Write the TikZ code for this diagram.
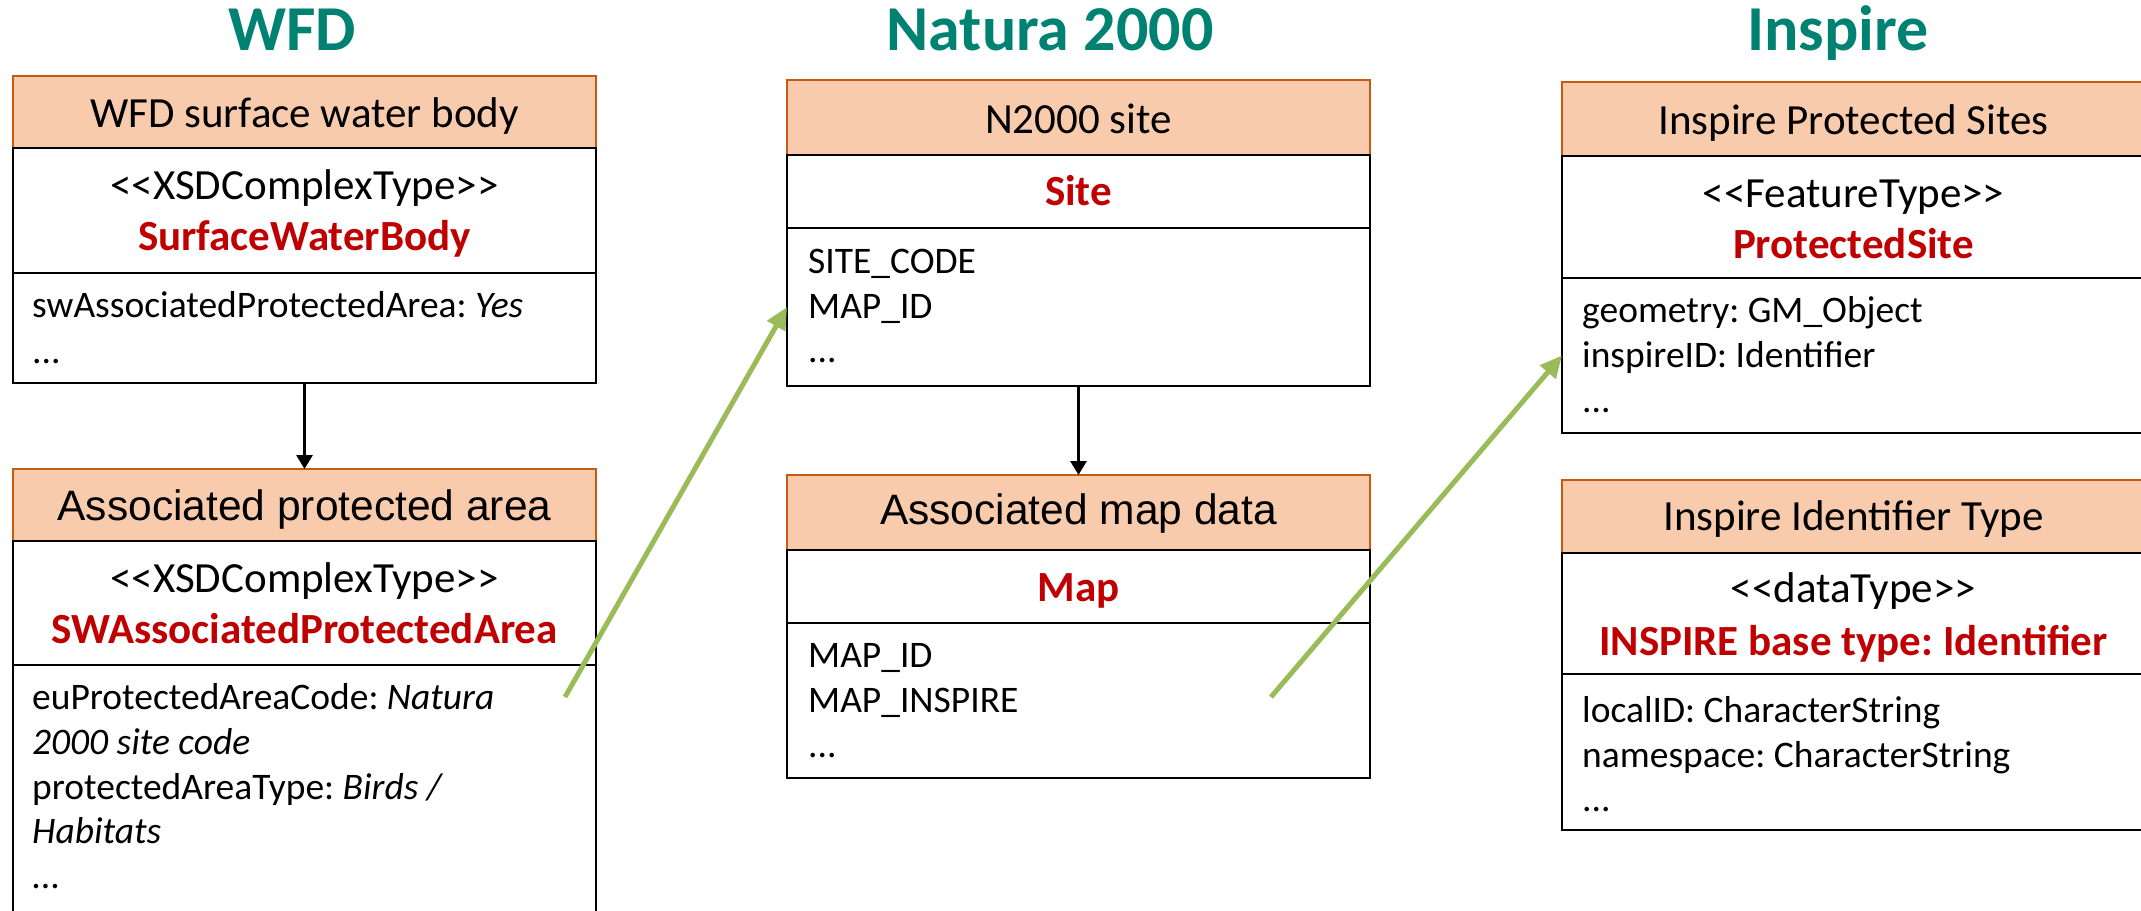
\documentclass[tikz,border=0pt]{standalone}
\usepackage{fontspec}
\setmainfont{Carlito}
\newfontfamily\arialfont{Liberation Sans}
\usetikzlibrary{arrows.meta}

\definecolor{titlegreen}{RGB}{0,130,114}
\definecolor{hdrfill}{RGB}{248,203,173}
\definecolor{hdrline}{RGB}{197,90,17}
\definecolor{clsred}{RGB}{192,0,0}
\definecolor{linkgreen}{RGB}{155,187,89}

% stereotype in angle brackets, kept apart so << and >> stay as typed
\newcommand\stname[1]{\mbox{<}\mbox{<}#1\mbox{>}\mbox{>}}

\begin{document}
\frenchspacing
\begin{tikzpicture}[x=1pt,y=-1pt,
  cell/.style={draw=black, line width=2.5pt, fill=white, anchor=north west,
               minimum width=583pt, inner sep=0pt, outer sep=0pt},
  hdr/.style={cell, draw=hdrline, fill=hdrfill},
  ctr/.style={inner sep=0pt, anchor=base, font=\fontsize{43}{46}\selectfont},
  lft/.style={inner sep=0pt, anchor=base west, font=\fontsize{37.5}{45}\selectfont},
  cls/.style={ctr, text=clsred, font=\fontsize{43}{46}\selectfont\bfseries},
  arl/.style={ctr, font=\fontsize{42.5}{46}\selectfont\arialfont},
  title/.style={anchor=base, inner sep=0pt, text=titlegreen,
                font=\fontsize{64}{70}\selectfont\bfseries},
  flow/.style={-{Triangle[length=14pt,width=16pt]}, line width=3pt},
  link/.style={-{Triangle[length=22pt,width=20pt]}, line width=5pt, draw=linkgreen},
]
\useasboundingbox (0,0) rectangle (2141,910);
\clip (0,0) rectangle (2141,910);

% ---------- column titles ----------
\node[title] (tWFD) at (292,50) {WFD};
\node[title] (tN2K) at (1050,50) {Natura 2000};
\node[title] (tINS) at (1838,50) {Inspire};

% ---------- WFD: surface water body ----------
\node[hdr,  minimum height=72pt]  (wA-hd) at (13,76)  {};
\node[cell, minimum height=125pt] (wA-ty) at (13,148) {};
\node[cell, minimum height=110pt] (wA-at) at (13,273) {};
\node[ctr] (wA-h) at (304.5,127) {WFD surface water body};
\node[ctr] (wA-s) at (304.5,199) {\stname{XSDComplexType}};
\node[cls] (wA-c) at (304.5,250) {SurfaceWaterBody};
\node[lft] (wA-1) at (32,317) {swAssociatedProtectedArea: \textit{Yes}};
\node[lft] (wA-2) at (32,363) {...};

% ---------- WFD: associated protected area ----------
\node[hdr,  minimum height=72pt]  (wB-hd) at (13,469) {};
\node[cell, minimum height=124pt] (wB-ty) at (13,541) {};
\node[cell, minimum height=320pt] (wB-at) at (13,665) {};
\node[arl] (wB-h) at (304.5,520) {Associated protected area};
\node[ctr] (wB-s) at (304.5,592) {\stname{XSDComplexType}};
\node[cls] (wB-c) at (304.5,643) {SWAssociatedProtectedArea};
\node[lft] (wB-1) at (32,709) {euProtectedAreaCode: \textit{Natura}};
\node[lft] (wB-2) at (32,754) {\textit{2000 site code}};
\node[lft] (wB-3) at (32,799) {protectedAreaType: \textit{Birds /}};
\node[lft] (wB-4) at (32,843) {\textit{Habitats}};
\node[lft] (wB-5) at (32,888) {\textit{...}};

% ---------- Natura 2000: site ----------
\node[hdr,  minimum height=75pt]  (nA-hd) at (787,80)  {};
\node[cell, minimum height=73pt]  (nA-ty) at (787,155) {};
\node[cell, minimum height=158pt] (nA-at) at (787,228) {};
\node[ctr] (nA-h) at (1078.5,133.5) {N2000 site};
\node[cls] (nA-c) at (1078.5,205) {Site};
\node[lft] (nA-1) at (808,273.5) {SITE\_CODE};
\node[lft] (nA-2) at (808,318.5) {MAP\_ID};
\node[lft] (nA-3) at (808,362) {...};

% ---------- Natura 2000: associated map data ----------
\node[hdr,  minimum height=75pt]  (nB-hd) at (787,475) {};
\node[cell, minimum height=73pt]  (nB-ty) at (787,550) {};
\node[cell, minimum height=155pt] (nB-at) at (787,623) {};
\node[arl] (nB-h) at (1078.5,524) {Associated map data};
\node[cls] (nB-c) at (1078.5,601) {Map};
\node[lft] (nB-1) at (808,667) {MAP\_ID};
\node[lft] (nB-2) at (808,712) {MAP\_INSPIRE};
\node[lft] (nB-3) at (808,757) {...};

% ---------- Inspire: protected sites ----------
\node[hdr,  minimum height=74pt]  (iA-hd) at (1562,82)  {};
\node[cell, minimum height=122pt] (iA-ty) at (1562,156) {};
\node[cell, minimum height=155pt] (iA-at) at (1562,278) {};
\node[ctr] (iA-h) at (1853.5,134) {Inspire Protected Sites};
\node[ctr] (iA-s) at (1853.5,207.5) {\stname{FeatureType}};
\node[cls] (iA-c) at (1853.5,258.5) {ProtectedSite};
\node[lft] (iA-1) at (1582,322.5) {geometry: GM\_Object};
\node[lft] (iA-2) at (1582,367.5) {inspireID: Identifier};
\node[lft] (iA-3) at (1582,412.5) {...};

% ---------- Inspire: identifier type ----------
\node[hdr,  minimum height=73pt]  (iB-hd) at (1562,480) {};
\node[cell, minimum height=121pt] (iB-ty) at (1562,553) {};
\node[cell, minimum height=156pt] (iB-at) at (1562,674) {};
\node[ctr] (iB-h) at (1853.5,530) {Inspire Identifier Type};
\node[ctr] (iB-s) at (1853.5,602.5) {\stname{dataType}};
\node[cls] (iB-c) at (1853.5,655) {INSPIRE base type: Identifier};
\node[lft] (iB-1) at (1582,722.5) {localID: CharacterString};
\node[lft] (iB-2) at (1582,767.5) {namespace: CharacterString};
\node[lft] (iB-3) at (1582,811) {...};

% ---------- connectors ----------
\draw[flow] (wA-at.south) -- (wB-hd.north);
\draw[flow] (nA-at.south) -- (nB-hd.north);

\coordinate (codeRef) at (565,697);
\coordinate (inspireRef) at (1271,697);
\draw[link] (codeRef) -- (nA-at.west);
\draw[link] (inspireRef) -- (iA-at.west);
\end{tikzpicture}
\end{document}
